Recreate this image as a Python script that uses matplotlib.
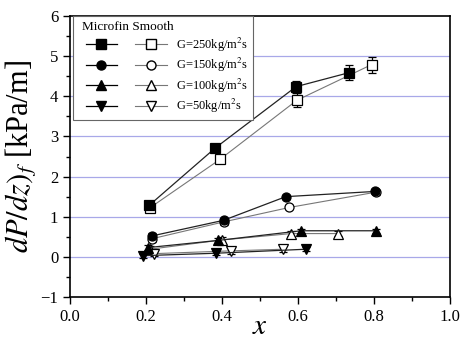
import matplotlib
matplotlib.use("Agg")
import matplotlib.pyplot as plt
from matplotlib.lines import Line2D
from matplotlib.legend_handler import HandlerTuple
from matplotlib.ticker import MultipleLocator

plt.rcParams['font.family'] = ['Liberation Serif', 'DejaVu Serif']
plt.rcParams['mathtext.fontset'] = 'stix'

labels = ["G=250kg/m$^2$s", "G=150kg/m$^2$s", "G=100kg/m$^2$s", "G=50kg/m$^2$s"]
markers = ["s", "o", "^", "v"]

# Microfin (filled)
mf_x = [[0.208, 0.382, 0.595, 0.735],
        [0.215, 0.404, 0.568, 0.803],
        [0.204, 0.390, 0.608, 0.805],
        [0.193, 0.383, 0.620]]
mf_y = [[1.28, 2.71, 4.24, 4.59],
        [0.52, 0.91, 1.50, 1.63],
        [0.23, 0.41, 0.65, 0.65],
        [0.03, 0.09, 0.19]]
mf_err = [[0.08, 0.09, 0.15, 0.19],
          [0.07, 0.07, 0.05, 0.06],
          [0.07, 0.06, 0.05, 0.05],
          [0.05, 0.05, 0.05]]

# Smooth (open)
sm_x = [[0.210, 0.395, 0.597, 0.794],
        [0.215, 0.404, 0.577, 0.804],
        [0.210, 0.399, 0.582, 0.706],
        [0.221, 0.425, 0.561]]
sm_y = [[1.22, 2.43, 3.90, 4.79],
        [0.45, 0.87, 1.23, 1.61],
        [0.19, 0.42, 0.58, 0.58],
        [0.08, 0.15, 0.19]]
sm_err = [[0.08, 0.09, 0.17, 0.20],
          [0.07, 0.07, 0.05, 0.06],
          [0.07, 0.07, 0.07, 0.07],
          [0.07, 0.07, 0.07]]


class OffsetTuple(HandlerTuple):
    def __init__(self, offset=0.6, **kw):
        super().__init__(**kw)
        self._offset = offset

    def create_artists(self, legend, orig_handle, xdescent, ydescent,
                       width, height, fontsize, trans):
        off = self._offset * fontsize
        return super().create_artists(legend, orig_handle, xdescent - off, ydescent,
                                      width - off, height, fontsize, trans)


fig = plt.figure(figsize=(4.65, 3.44), dpi=100)
ax = fig.add_axes([0.1505, 0.1366, 0.8172, 0.8169])

for v in range(0, 6):
    ax.axhline(v, color='#a8a8e8', lw=0.9, zorder=0)

handles = []
for i in range(4):
    ms = 6.5 if markers[i] in ('s', 'o') else 7.5
    ax.errorbar(sm_x[i], sm_y[i], yerr=sm_err[i], fmt='-', marker=markers[i],
                color='#777777', mec='black', mfc='white', ecolor='black',
                lw=0.8, ms=ms, mew=0.9, capsize=3, elinewidth=0.9, capthick=0.9, zorder=3)
    ax.errorbar(mf_x[i], mf_y[i], yerr=mf_err[i], fmt='-', marker=markers[i],
                color='#222222', mec='black', mfc='black', ecolor='black',
                lw=0.9, ms=ms, mew=0.9, capsize=3, elinewidth=0.9, capthick=0.9, zorder=4)
    hf = Line2D([], [], color='black', lw=0.9, marker=markers[i], ms=ms, mfc='black', mec='black')
    ho = Line2D([], [], color='#777777', lw=0.8, marker=markers[i], ms=ms, mfc='white', mec='black')
    handles.append((hf, ho))

leg = ax.legend(handles, labels,
                handler_map={tuple: OffsetTuple(offset=0.6, ndivide=None, pad=1.45)},
                loc='upper left', bbox_to_anchor=(0.008, 1.0), fontsize=9,
                title='Microfin Smooth', title_fontsize=9.5, alignment='left',
                handlelength=7.1, handletextpad=0.7, labelspacing=0.2,
                borderpad=0.4, frameon=True, fancybox=False, edgecolor='#666666',
                framealpha=1, borderaxespad=0.0)
leg.get_title().set_position((4, 0))
leg.get_frame().set_linewidth(0.8)

ax.set_xlim(0, 1.0)
ax.set_ylim(-1, 6)
ax.xaxis.set_major_locator(MultipleLocator(0.2))
ax.xaxis.set_minor_locator(MultipleLocator(0.1))
ax.yaxis.set_major_locator(MultipleLocator(1))
ax.yaxis.set_minor_locator(MultipleLocator(0.5))
ax.xaxis.set_major_formatter(matplotlib.ticker.FormatStrFormatter('%.1f'))
ax.tick_params(which='major', direction='out', length=5, width=1.0, labelsize=12)
ax.tick_params(which='minor', direction='out', length=3, width=1.0)
for s in ax.spines.values():
    s.set_linewidth(1.2)

ax.set_xlabel('$x$', fontsize=21, labelpad=-8)
ax.set_ylabel('$dP/dz)_f$ [kPa/m]', fontsize=22, labelpad=1)

fig.savefig('out.png', dpi=100)
